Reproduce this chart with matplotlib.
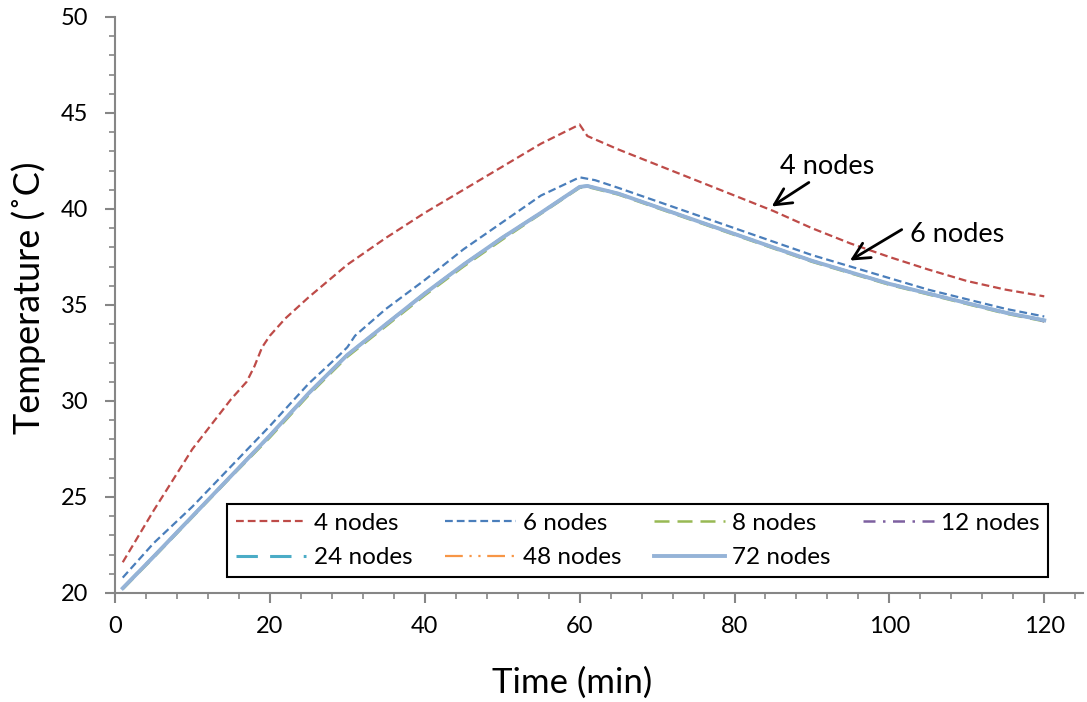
import matplotlib.pyplot as plt
from matplotlib.ticker import MultipleLocator

plt.rcParams['font.family'] = ['Lato', 'DejaVu Sans']

# Tempo (min) e temperaturas
t_4 = [1, 5, 10, 15, 17, 18, 19, 20, 22, 25, 30, 35, 40, 45, 50, 55, 60, 61,
       65, 70, 75, 80, 85, 90, 95, 100, 105, 110, 115, 120]
T_4 = [21.6, 24.3, 27.5, 30.1, 31.0, 31.8, 32.8, 33.4, 34.3, 35.4, 37.1, 38.5,
       39.8, 41.0, 42.2, 43.4, 44.4, 43.8, 43.1, 42.3, 41.5, 40.7, 39.9, 39.0,
       38.2, 37.5, 36.85, 36.25, 35.8, 35.45]

t_6 = [1, 5, 10, 15, 20, 25, 29, 30, 31, 35, 40, 45, 50, 55, 60, 62, 65, 70,
       75, 80, 85, 90, 95, 100, 105, 110, 115, 120]
T_6 = [20.8, 22.6, 24.5, 26.6, 28.7, 30.9, 32.4, 32.8, 33.4, 34.8, 36.3, 37.9,
       39.3, 40.7, 41.65, 41.5, 41.1, 40.4, 39.7, 39.0, 38.3, 37.6, 37.0, 36.4,
       35.8, 35.3, 34.8, 34.4]

t_fine = [1, 5, 10, 15, 20, 25, 30, 35, 40, 45, 50, 55, 60, 61, 65, 70, 75,
          80, 85, 90, 95, 100, 105, 110, 115, 120]
T_8 = [20.2, 21.85, 23.95, 26.05, 28.1, 30.3, 32.3, 33.9, 35.5, 37.0, 38.4,
       39.75, 41.1, 41.15, 40.75, 40.05, 39.35, 38.65, 37.95, 37.25, 36.65,
       36.05, 35.55, 35.05, 34.55, 34.15]
T_12 = [20.25, 21.9, 24.0, 26.1, 28.2, 30.4, 32.4, 34.0, 35.6, 37.1, 38.5,
        39.8, 41.15, 41.2, 40.8, 40.1, 39.4, 38.7, 38.0, 37.3, 36.7, 36.1,
        35.6, 35.1, 34.6, 34.15]
T_24 = [20.25, 21.9, 24.0, 26.1, 28.2, 30.4, 32.4, 34.0, 35.6, 37.1, 38.5,
        39.8, 41.15, 41.2, 40.8, 40.1, 39.4, 38.7, 38.0, 37.3, 36.7, 36.1,
        35.6, 35.1, 34.6, 34.2]
T_48 = [20.25, 21.9, 24.0, 26.1, 28.2, 30.4, 32.4, 34.0, 35.6, 37.1, 38.5,
        39.8, 41.15, 41.2, 40.8, 40.1, 39.4, 38.7, 38.0, 37.3, 36.7, 36.1,
        35.6, 35.1, 34.6, 34.2]
T_72 = [20.25, 21.9, 24.0, 26.1, 28.2, 30.4, 32.4, 34.0, 35.6, 37.1, 38.5,
        39.8, 41.15, 41.2, 40.8, 40.1, 39.4, 38.7, 38.0, 37.3, 36.7, 36.1,
        35.6, 35.1, 34.6, 34.2]

fig = plt.figure(figsize=(10.87, 7.02), dpi=100)
ax = fig.add_axes([0.1058, 0.1553, 0.8905, 0.8205])

l4, = ax.plot(t_4, T_4, color='#BE4B48', lw=1.6, dashes=(3.5, 1.8), label='4 nodes')
l6, = ax.plot(t_6, T_6, color='#4A7EBB', lw=1.6, dashes=(3.5, 1.8), label='6 nodes')
l8, = ax.plot(t_fine, T_8, color='#98B954', lw=1.8, dashes=(6, 3.2), label='8 nodes')
l12, = ax.plot(t_fine, T_12, color='#7D60A0', lw=1.8, dashes=(4.8, 3, 1, 3), label='12 nodes')
l24, = ax.plot(t_fine, T_24, color='#4BACC6', lw=2.2, dashes=(7, 4), label='24 nodes')
l48, = ax.plot(t_fine, T_48, color='#F79646', lw=1.6, dashes=(8, 3, 1, 3, 1, 3), label='48 nodes')
l72, = ax.plot(t_fine, T_72, color='#95B3D7', lw=2.8, label='72 nodes')

ax.set_xlim(0, 125)
ax.set_ylim(20, 50)
ax.xaxis.set_major_locator(MultipleLocator(20))
ax.xaxis.set_minor_locator(MultipleLocator(4))
ax.yaxis.set_major_locator(MultipleLocator(5))
ax.yaxis.set_minor_locator(MultipleLocator(1))
ax.set_xticks([0, 20, 40, 60, 80, 100, 120])

for s in ['top', 'right']:
    ax.spines[s].set_visible(False)
for s in ['left', 'bottom']:
    ax.spines[s].set_color('#868686')
    ax.spines[s].set_linewidth(1.5)
ax.tick_params(which='major', direction='out', length=7, width=1.5,
               color='#868686', labelsize=17)
ax.tick_params(which='minor', direction='out', length=4, width=1.2, color='#868686')
ax.tick_params(axis='x', which='major', pad=9.5)
ax.tick_params(axis='y', which='major', pad=12)

ax.set_xlabel('Time (min)', fontsize=25)
ax.set_ylabel('Temperature (˚C)', fontsize=26)
ax.xaxis.set_label_coords(0.472, -0.128)
ax.yaxis.set_label_coords(-0.071, 0.512)

ax.annotate('', xy=(84.5, 40.05), xytext=(89.9, 41.46),
            arrowprops=dict(arrowstyle='->', lw=2, color='black', mutation_scale=30))
ax.text(92.0, 42.2, '4 nodes', fontsize=19.5, ha='center', va='center')
ax.annotate('', xy=(94.6, 37.24), xytext=(101.9, 39.0),
            arrowprops=dict(arrowstyle='->', lw=2, color='black', mutation_scale=30))
ax.text(108.8, 38.65, '6 nodes', fontsize=19.5, ha='center', va='center')

# ordem em colunas para que a legenda fique por linhas como no original
handles = [l4, l24, l6, l48, l8, l72, l12]
leg = ax.legend(handles=handles, labels=[h.get_label() for h in handles], ncol=4,
                loc='lower left', bbox_to_anchor=(0.116, 0.028, 0.848, 0.133),
                mode='expand', borderaxespad=0, fontsize=17.5, handlelength=2.9,
                handletextpad=0.3, borderpad=0.35, labelspacing=0.55,
                fancybox=False, framealpha=1)
leg.get_frame().set_edgecolor('black')
leg.get_frame().set_linewidth(1.5)

fig.savefig('out.png', dpi=100)
